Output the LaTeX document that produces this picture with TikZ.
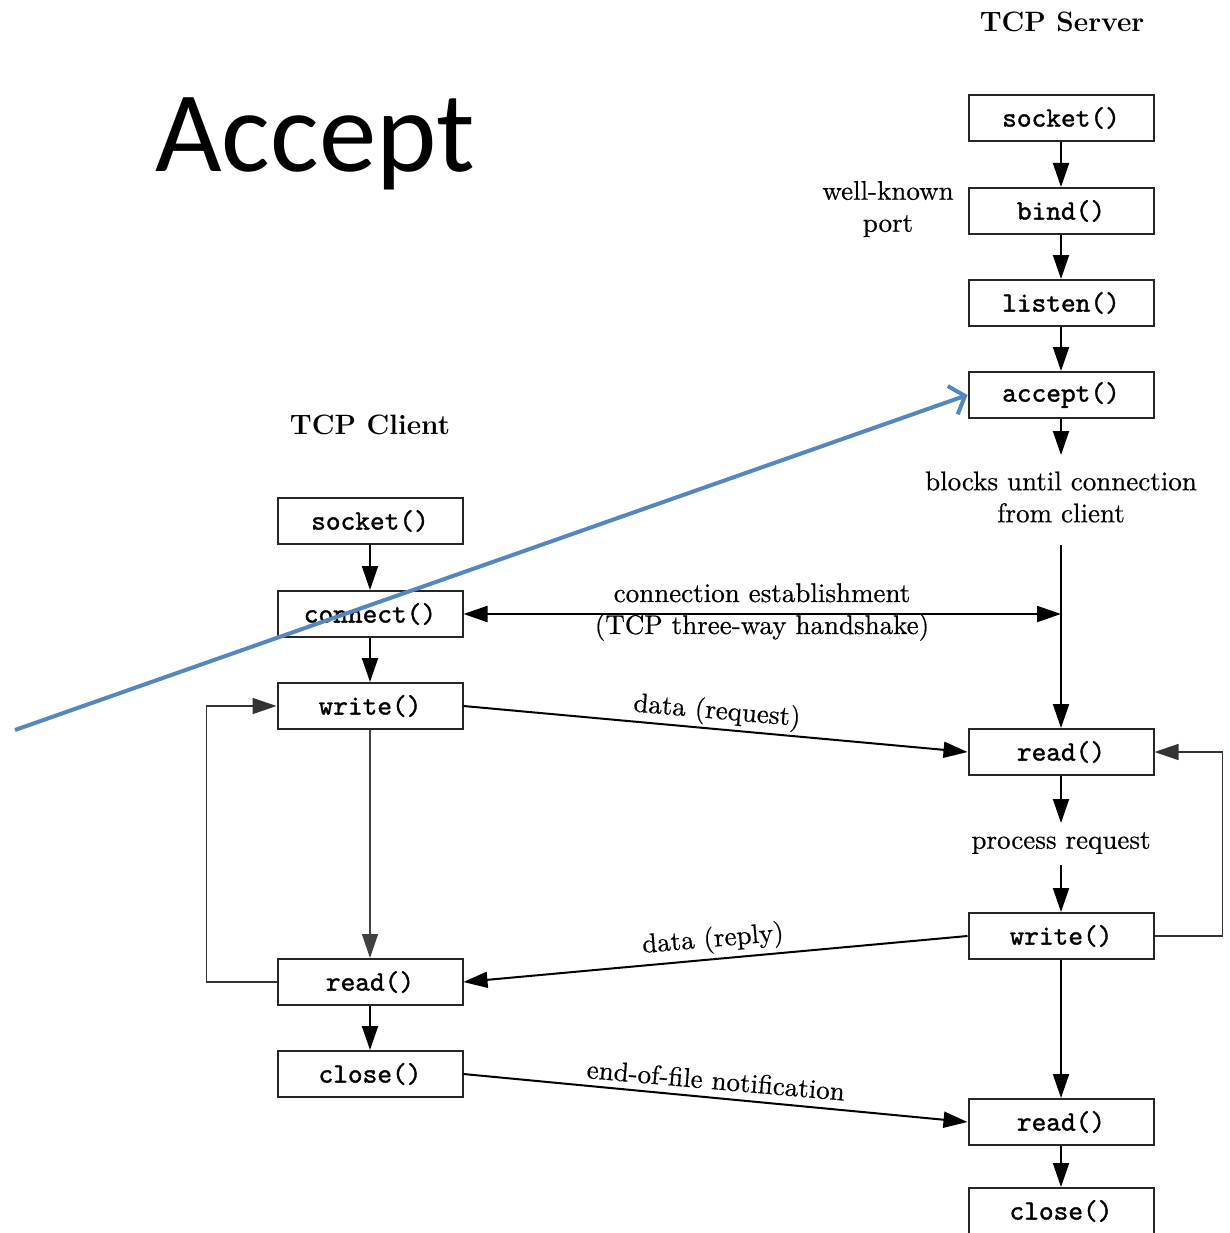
\documentclass[tikz,border=0pt]{standalone}
\usepackage{fontspec}
\newfontfamily\boxfont{lmmono10-regular.otf}[FakeBold=1.3]
\newfontfamily\labfont{lmroman10-regular.otf}[FakeBold=0.5]
\newfontfamily\slidefont{Carlito}
\usetikzlibrary{arrows.meta}
\definecolor{slideblue}{RGB}{84,134,192}
\begin{document}
\begin{tikzpicture}[x=1pt,y=-1pt,
  fn/.style={draw=black!85, line width=2pt, minimum width=185pt, minimum height=46pt,
    inner sep=0pt, font=\fontsize{28}{30}\boxfont},
  lab/.style={font=\fontsize{27}{32}\labfont, inner sep=0pt, align=center},
  head/.style={font=\fontsize{28}{32}\selectfont\bfseries, inner sep=0pt},
  flow/.style={line width=2pt, -{Triangle[length=24pt,width=16pt]}},
  thinflow/.style={line width=1.4pt, black!75, -{Triangle[length=24pt,width=16pt]}},
  loopflow/.style={line width=1.5pt, black!80, -{Triangle[length=24pt,width=16pt]}},
]
\useasboundingbox (0,0) rectangle (1230,1233);
\clip (0,0) rectangle (1230,1233);

% slide title
\node[anchor=base west, inner sep=0pt, font=\fontsize{115}{120}\selectfont\slidefont] (title) at (155,172) {Accept};

% server column
\node[head] (shead) at (1062,22) {TCP Server};
\node[fn] (ssock)  at (1061,118) {socket()};
\node[fn] (sbind)  at (1061,211) {bind()};
\node[fn] (slisten) at (1061,303) {listen()};
\node[fn] (saccept) at (1061,395) {accept()};
\node[lab] (wkport) at (888,209) {well-known\\port};
\coordinate (accend) at (1061,455);
\node[lab] (blocks) at (1061,497) {blocks until connection\\from client};
\coordinate (blkend) at (1061,545);
\coordinate (hs) at (1061,614);
\node[fn] (sread)  at (1061,752) {read()};
\coordinate (readend) at (1061,823);
\node[lab] (proc) at (1061,843) {process request};
\coordinate (procend) at (1061,865);
\node[fn] (swrite) at (1061,936) {write()};
\node[fn] (sread2) at (1061,1122) {read()};
\node[fn] (sclose) at (1061,1211) {close()};

% client column
\node[head] (chead) at (370,425) {TCP Client};
\node[fn] (csock)  at (370,521) {socket()};
\node[fn] (cconn)  at (370,614) {connect()};
\node[fn] (cwrite) at (370,706) {write()};
\node[fn] (cread)  at (370,982) {read()};
\node[fn] (cclose) at (370,1074) {close()};

% server flow
\draw[flow] (ssock) -- (sbind);
\draw[flow] (sbind) -- (slisten);
\draw[flow] (slisten) -- (saccept);
\draw[flow] (saccept) -- (accend);
\draw[flow] (blkend) -- (sread);
\draw[flow] (sread) -- (readend);
\draw[flow] (procend) -- (swrite);
\draw[flow] (swrite) -- (sread2);
\draw[flow] (sread2) -- (sclose);
\draw[loopflow] (swrite.east) -- ++(68,0) |- (sread.east);

% client flow
\draw[flow] (csock) -- (cconn);
\draw[flow] (cconn) -- (cwrite);
\draw[thinflow] (cwrite) -- (cread);
\draw[flow] (cread) -- (cclose);
\draw[loopflow] (cread.west) -- ++(-70,0) |- (cwrite.west);

% messages between client and server
\draw[line width=2pt, {Triangle[length=24pt,width=16pt]}-{Triangle[length=24pt,width=16pt]}] (cconn.east) -- (hs);
\node[lab] (connlab) at (762,612) {connection establishment\\(TCP three-way handshake)};
\draw[flow] (cwrite.east) -- (sread.west);
\node[lab, rotate=-5] (reqlab) at (717,712) {data (request)};
\draw[flow] (swrite.west) -- (cread.east);
\node[lab, rotate=5] (replab) at (713,940) {data (reply)};
\draw[flow] (cclose.east) -- (sread2.west);
\node[lab, rotate=-5] (eoflab) at (716,1080) {end-of-file notification};

% annotation arrow
\coordinate (pointer) at (15,730);
\draw[slideblue, line width=4pt, -{Straight Barb[length=13pt,width=30pt]}] (pointer) -- (saccept.west);
\end{tikzpicture}
\end{document}
